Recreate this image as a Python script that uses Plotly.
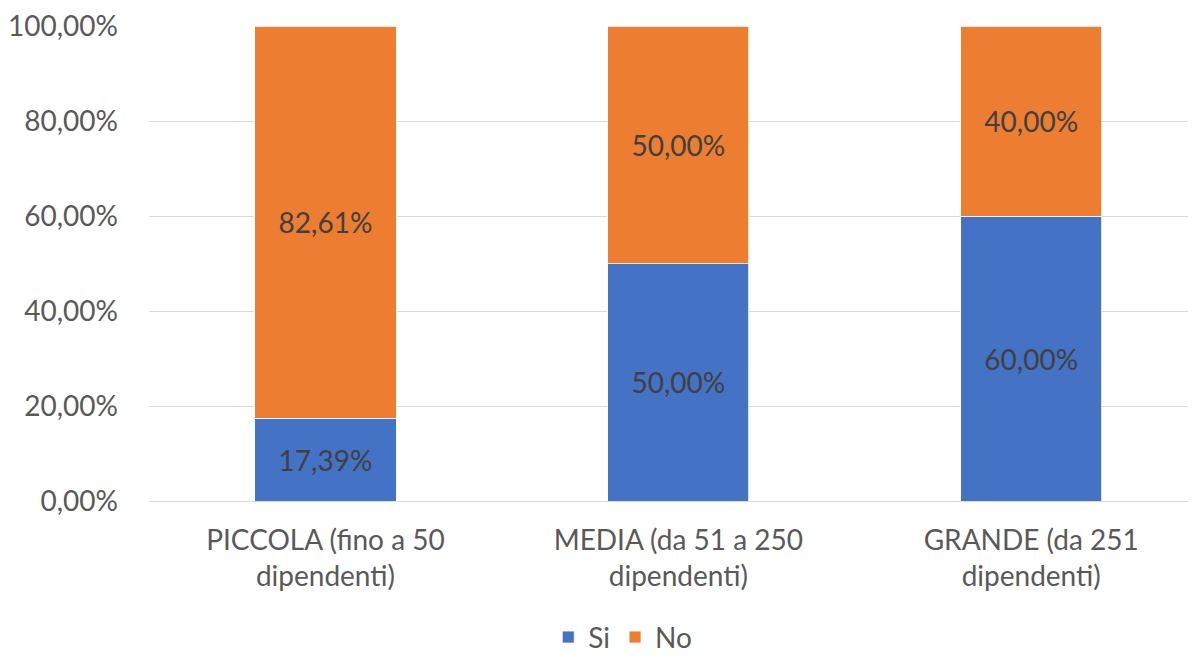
import plotly.graph_objects as go

categories = ["PICCOLA (fino a 50<br>dipendenti)", "MEDIA (da 51 a 250<br>dipendenti)", "GRANDE (da 251<br>dipendenti)"]
si_values = [0.1739, 0.50, 0.60]
no_values = [0.8261, 0.50, 0.40]
y_ticks = [0, 0.2, 0.4, 0.6, 0.8, 1.0]
y_tick_labels = ["0,00%", "20,00%", "40,00%", "60,00%", "80,00%", "100,00%"]

FONT = "Lato"
FS = 28

def fmt(v):
    return f"{v*100:.2f}%".replace(".", ",")

fig = go.Figure()
fig.add_trace(go.Bar(
    name="Si", x=categories, y=si_values,
    marker=dict(color="#4472C4", line=dict(color="white", width=0.8)),
    text=[fmt(v) for v in si_values], textposition="inside", insidetextanchor="middle",
    textfont=dict(family=FONT, size=FS, color="#404040"),
))
fig.add_trace(go.Bar(
    name="No", x=categories, y=no_values,
    marker=dict(color="#ED7D31", line=dict(color="white", width=0.8)),
    text=[fmt(v) for v in no_values], textposition="inside", insidetextanchor="middle",
    textfont=dict(family=FONT, size=FS, color="#404040"),
))

fig.update_layout(
    barmode="stack",
    bargap=0.6,
    width=1196, height=659,
    margin=dict(l=141, r=8, t=18, b=166, autoexpand=False),
    paper_bgcolor="white", plot_bgcolor="white",
    font=dict(family=FONT, size=FS, color="#595959"),
    uniformtext=dict(mode="show", minsize=10),
    legend=dict(orientation="h", xref="container", yref="container",
                x=0.514, xanchor="center", y=0.045, yanchor="middle",
                font=dict(family=FONT, size=FS, color="#595959"),
                traceorder="normal", itemwidth=30),
)
fig.update_xaxes(range=[-0.5, 2.467], showgrid=False, showline=False, ticks="",
                 ticklabelstandoff=20, ticklabeloverflow="allow",
                 tickfont=dict(family=FONT, size=FS, color="#595959"))
fig.update_yaxes(range=[0, 1.0], tickvals=y_ticks, ticktext=y_tick_labels,
                 showgrid=True, gridcolor="#D9D9D9", gridwidth=1.3,
                 zeroline=True, zerolinecolor="#D9D9D9", zerolinewidth=1.3,
                 showline=False, ticks="", ticklabelstandoff=30,
                 ticklabeloverflow="allow",
                 tickfont=dict(family=FONT, size=FS, color="#595959"))

fig.write_html("out.html")
